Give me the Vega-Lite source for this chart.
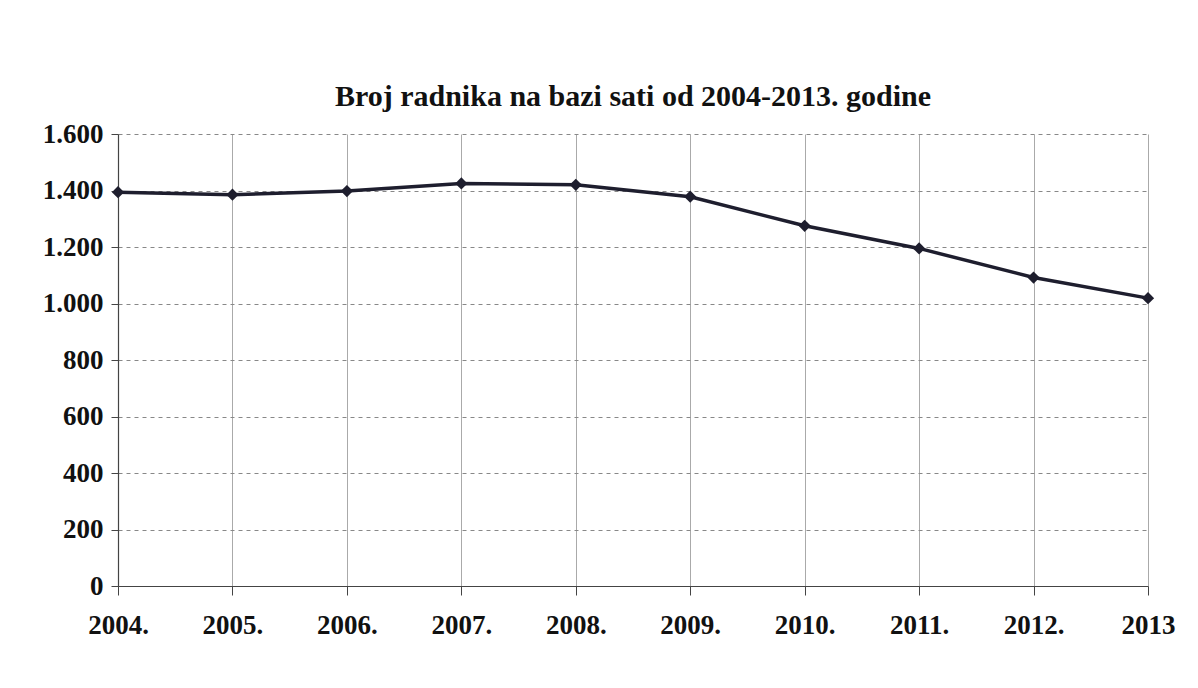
{
  "$schema": "https://vega.github.io/schema/vega-lite/v6.json",
  "autosize": "none",
  "width": 1030,
  "height": 452,
  "padding": {"left": 118, "top": 134, "right": 50, "bottom": 102},
  "background": "white",
  "title": {
    "text": "Broj radnika na bazi sati od 2004-2013. godine",
    "font": "Liberation Serif",
    "fontSize": 30,
    "fontWeight": "bold",
    "color": "#111111",
    "offset": 8,
    "anchor": "middle"
  },
  "data": {
    "values": [
      {"godina": "2004.", "radnici": 1394},
      {"godina": "2005.", "radnici": 1385},
      {"godina": "2006.", "radnici": 1398},
      {"godina": "2007.", "radnici": 1425},
      {"godina": "2008.", "radnici": 1420},
      {"godina": "2009.", "radnici": 1378},
      {"godina": "2010.", "radnici": 1275},
      {"godina": "2011.", "radnici": 1195},
      {"godina": "2012.", "radnici": 1092},
      {"godina": "2013", "radnici": 1019}
    ]
  },
  "config": {
    "view": {"stroke": null},
    "axis": {
      "labelFont": "Liberation Serif",
      "labelFontWeight": "bold",
      "labelFontSize": 27,
      "labelColor": "#111111",
      "domainColor": "#444444",
      "tickColor": "#444444",
      "title": null
    }
  },
  "encoding": {
    "x": {
      "field": "godina",
      "type": "ordinal",
      "sort": null,
      "scale": {"type": "point", "padding": 0},
      "axis": {
        "labelAngle": 0,
        "tickSize": 9,
        "labelPadding": 17,
        "grid": true,
        "gridColor": "#aaaaaa",
        "gridWidth": 1,
        "domainWidth": 1.2
      }
    },
    "y": {
      "field": "radnici",
      "type": "quantitative",
      "scale": {"domain": [0, 1600], "nice": false},
      "axis": {
        "values": [0, 200, 400, 600, 800, 1000, 1200, 1400, 1600],
        "labelExpr": "replace(format(datum.value, ','), ',', '.')",
        "tickSize": 7,
        "labelPadding": 8,
        "grid": true,
        "gridColor": "#888888",
        "gridDash": [4, 4],
        "gridWidth": 1,
        "domainWidth": 1.2
      }
    }
  },
  "layer": [
    {
      "mark": {"type": "line", "color": "#1e1e2e", "strokeWidth": 3.5}
    },
    {
      "mark": {"type": "point", "shape": "diamond", "filled": true, "color": "#1e1e2e", "size": 150, "opacity": 1}
    }
  ]
}
